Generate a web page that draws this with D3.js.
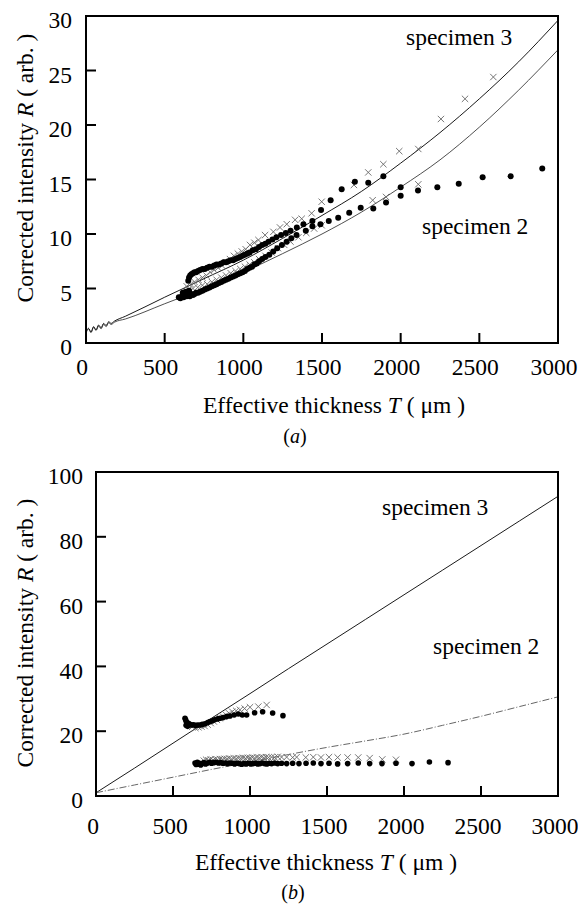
<!DOCTYPE html>
<html>
<head>
<meta charset="utf-8">
<script src="https://cdn.jsdelivr.net/npm/d3@7"></script>
<style>
	body { margin: 0; background: #fff; }
	svg { display: block; }
</style>
</head>
<body>
<script>
// ---- Panel (a) data ----
const aTicksX = [0, 500, 1000, 1500, 2000, 2500, 3000];
const aTicksY = [0, 5, 10, 15, 20, 25, 30];

// fitted curves (T, R)
const aCurve3 = [[0,1.0],[16,1.35],[32,1.0],[48,1.5],[64,1.2],[80,1.65],[96,1.4],[112,1.8],[128,1.6],[144,1.95],[160,1.8],[180,2.0],
	[250,2.45],[500,4.2],[750,5.9],[1000,7.6],[1250,9.6],[1500,11.7],[1750,13.9],[2000,16.5],[2250,19.3],[2500,22.4],[2750,25.8],[3000,29.6]];
const aCurve2 = [[0,0.9],[16,1.3],[32,0.95],[48,1.45],[64,1.15],[80,1.55],[96,1.3],[112,1.7],[128,1.5],[144,1.85],[160,1.7],[180,1.9],
	[250,2.2],[500,3.6],[750,5.0],[1000,6.5],[1250,8.2],[1500,10.0],[1750,12.0],[2000,14.3],[2250,16.8],[2500,19.8],[2750,23.2],[3000,26.9]];

// measured points
const aCross3 = [[640,5.2],[665,5.4],[690,5.6],[715,5.8],[740,6.0],[765,6.2],[790,6.5],[815,6.7],[840,6.9],[865,7.1],[890,7.4],[915,7.7],
	[940,8.0],[965,8.2],[990,8.4],[1015,8.6],[1042,9.0],[1070,9.2],[1096,9.45],[1138,9.9],[1191,10.2],[1233,10.6],[1276,10.9],[1329,11.3],
	[1371,11.4],[1434,11.9],[1498,12.96],[1703,14.5],[1794,15.65],[1890,16.4],[1991,17.6],[2112,17.8],[2256,20.55],[2409,22.4],[2589,24.4]];
const aCross2 = [[650,4.9],[680,5.0],[710,5.1],[740,5.3],[770,5.4],[800,5.6],[830,5.8],[860,6.0],[890,6.2],[920,6.4],[950,6.6],[980,6.8],
	[1010,7.0],[1040,7.2],[1070,7.4],[1100,7.7],[1140,8.0],[1180,8.3],[1220,8.7],[1260,9.0],[1300,9.3],[1350,9.7],[1400,10.1],[1450,10.5],
	[1498,10.8],[1822,13.1],[1907,13.4],[2112,14.56]];
const aDot3 = [[650,5.7],[655,6.0],[662,6.2],[670,6.3],[680,6.4],[690,6.5],[700,6.5],[712,6.6],[725,6.7],[740,6.8],[755,6.8],[770,6.9],
	[785,7.0],[800,7.0],[815,7.1],[830,7.2],[845,7.2],[860,7.3],[875,7.4],[890,7.4],[905,7.5],[920,7.6],[935,7.6],[950,7.7],[965,7.8],
	[980,7.9],[995,8.0],[1010,8.1],[1025,8.2],[1040,8.3],[1060,8.5],[1080,8.6],[1100,8.8],[1120,9.0],[1140,9.1],[1160,9.3],[1185,9.5],
	[1210,9.7],[1240,9.9],[1270,10.1],[1300,10.3],[1340,10.6],[1382,10.9],[1439,11.2],[1494,12.2],[1555,13.1],[1625,14.1],[1709,14.8],
	[1794,14.7],[1890,15.3],[2000,14.3],[2110,14.0],[2233,14.3],[2369,14.6],[2521,15.2],[2699,15.3],[2900,16.0]];
const aDot2 = [[590,4.2],[600,4.1],[610,4.3],[615,4.6],[620,4.2],[630,4.4],[635,4.7],[640,4.3],[650,4.4],[655,4.8],[660,4.3],[670,4.5],
	[680,4.4],[690,4.5],[700,4.6],[712,4.6],[725,4.7],[740,4.8],[755,4.9],[770,5.0],[785,5.1],[800,5.2],[815,5.3],[830,5.4],[845,5.5],
	[860,5.6],[875,5.7],[890,5.8],[905,5.9],[920,6.0],[935,6.1],[950,6.2],[965,6.3],[980,6.4],[995,6.5],[1010,6.6],[1025,6.8],[1040,6.9],
	[1055,7.0],[1070,7.2],[1085,7.3],[1100,7.5],[1120,7.7],[1140,7.9],[1165,8.1],[1190,8.4],[1215,8.7],[1245,9.0],[1275,9.3],[1305,9.6],
	[1338,9.9],[1397,10.3],[1439,10.7],[1490,10.9],[1543,11.2],[1603,11.5],[1673,11.95],[1746,12.4],[1826,12.35],[1907,12.9],[2000,13.5]];

// ---- Panel (b) data ----
const bTicksX = [0, 500, 1000, 1500, 2000, 2500, 3000];
const bTicksY = [0, 20, 40, 60, 80, 100];

const bCurve3 = [[0,1],[250,8.6],[500,16.3],[750,24.0],[1000,31.6],[1250,39.3],[1500,46.9],[1750,54.5],[2000,62.1],[2250,69.7],[2500,77.3],[2750,84.9],[3000,92.5]];
const bCurve2 = [[0,1],[250,3.4],[500,5.8],[750,8.2],[1000,10.5],[1250,12.8],[1500,15.0],[1750,17.0],[2000,19.1],[2250,21.8],[2500,24.6],[2750,27.6],[3000,30.6]];

const bCross3 = [[625,21.4],[645,21.0],[665,21.2],[685,21.4],[705,21.6],[725,22.0],[745,22.5],[765,23.0],[785,23.5],[805,24.0],[825,24.5],
	[845,25.0],[865,25.5],[885,26.0],[910,26.3],[935,26.6],[965,27.0],[1000,27.4],[1054,27.6],[1108,28.1]];
const bDot3 = [[578,24.0],[582,23.5],[585,21.8],[586,23.0],[592,22.6],[595,21.5],[600,22.4],[610,22.1],[620,21.9],[632,22.0],[645,21.8],
	[660,21.9],[675,21.9],[690,22.1],[708,22.3],[725,22.7],[740,23.0],[755,23.2],[770,23.5],[790,23.8],[805,24.0],[825,24.2],[848,24.5],
	[870,24.7],[897,25.0],[924,25.3],[950,25.0],[978,25.0],[1030,25.7],[1082,26.0],[1147,25.6],[1214,24.8]];
const bCross2 = [[700,10.9],[715,11.2],[730,11.0],[745,11.3],[760,11.1],[775,11.4],[790,11.2],[805,11.4],[820,11.3],[835,11.5],[850,11.4],
	[865,11.6],[880,11.4],[895,11.6],[910,11.5],[925,11.7],[940,11.6],[955,11.8],[970,11.6],[985,11.8],[1000,11.7],[1015,11.9],[1030,11.7],
	[1045,11.9],[1060,11.8],[1075,12.0],[1090,11.8],[1105,12.0],[1120,11.9],[1140,12.0],[1160,11.9],[1180,12.1],[1205,12.0],[1238,12.0],
	[1277,11.9],[1303,12.0],[1362,11.9],[1411,12.0],[1461,11.9],[1513,12.0],[1569,11.9],[1634,11.9],[1703,11.9],[1777,11.7],[1859,11.3],[1948,11.2]];
const bDot2 = [[643,10.2],[650,9.7],[658,10.4],[665,9.8],[672,10.1],[680,9.6],[690,10.0],[700,10.3],[712,9.9],[725,10.2],[738,10.4],
	[750,10.1],[765,10.3],[780,10.4],[795,10.2],[810,10.3],[825,10.1],[840,10.2],[855,10.0],[870,10.2],[885,10.1],[900,9.9],[915,10.1],
	[930,10.0],[945,9.8],[960,10.0],[975,9.9],[990,10.1],[1005,9.9],[1020,10.0],[1035,10.1],[1050,9.9],[1065,10.0],[1080,10.2],[1095,10.0],
	[1110,9.9],[1125,10.1],[1140,10.0],[1160,10.2],[1180,10.0],[1205,10.1],[1238,10.0],[1277,10.1],[1318,10.0],[1364,10.1],[1411,10.2],
	[1461,10.0],[1513,10.1],[1569,9.9],[1634,10.0],[1703,10.2],[1777,10.0],[1857,10.0],[1948,10.1],[2052,10.0],[2165,10.5],[2286,10.3]];

const FONT = 'Liberation Serif';
const FS = 23.5;

const svg = d3.select('body')
	.append('svg')
	.attr('width', 578)
	.attr('height', 905)
	.style('font-family', FONT);

function addText(g, x, y, size) {
	return g.append('text')
		.attr('x', x).attr('y', y)
		.style('font-family', FONT)
		.style('font-size', size + 'px');
}

function drawPanel(p) {
	const x = d3.scaleLinear().domain([0, 3000]).range([p.left, p.right]);
	const y = d3.scaleLinear().domain([0, p.yMax]).range([p.bottom, p.top]);
	const g = svg.append('g');

	// inward ticks (skip the ones on the frame)
	g.selectAll('.xt').data(p.ticksX.slice(1, -1)).enter().append('line')
		.attr('x1', d => x(d)).attr('x2', d => x(d))
		.attr('y1', p.bottom).attr('y2', p.bottom - 10)
		.attr('stroke', '#000').attr('stroke-width', 2);
	g.selectAll('.yt').data(p.ticksY.slice(1, -1)).enter().append('line')
		.attr('x1', p.left).attr('x2', p.left + 10)
		.attr('y1', d => y(d)).attr('y2', d => y(d))
		.attr('stroke', '#000').attr('stroke-width', 2);

	// tick labels
	p.ticksX.forEach(d => {
		addText(g, x(d) + p.xLabelShift, p.xLabelY, FS)
			.attr('text-anchor', 'middle')
			.text(d);
	});
	p.ticksY.forEach(d => {
		addText(g, p.yLabelX, y(d) + 4, FS)
			.attr('dy', '0.35em')
			.attr('text-anchor', 'end')
			.text(d);
	});

	// fitted curves
	const line = d3.line().x(d => x(d[0])).y(d => y(d[1])).curve(d3.curveMonotoneX);
	p.curves.forEach(c => {
		g.append('path')
			.attr('d', line(c.data))
			.attr('fill', 'none')
			.attr('stroke', c.color)
			.attr('stroke-width', c.width)
			.attr('stroke-dasharray', c.dash);
	});

	// crosses
	const cross = d3.symbol(d3.symbolTimes, 28);
	p.crosses.forEach(set => {
		g.selectAll(null).data(set).enter().append('path')
			.attr('d', cross)
			.attr('transform', d => `translate(${x(d[0])},${y(d[1])})`)
			.attr('fill', 'none')
			.attr('stroke', '#666')
			.attr('stroke-width', 0.9);
	});

	// dots
	p.dots.forEach(set => {
		g.selectAll(null).data(set).enter().append('circle')
			.attr('cx', d => x(d[0]))
			.attr('cy', d => y(d[1]))
			.attr('r', p.dotR)
			.attr('fill', '#000');
	});

	// frame
	g.append('rect')
		.attr('x', p.left).attr('y', p.top)
		.attr('width', p.right - p.left).attr('height', p.bottom - p.top)
		.attr('fill', 'none').attr('stroke', '#000').attr('stroke-width', 2);

	// axis titles
	const xt = addText(g, p.xTitleX, p.xTitleY, FS).attr('text-anchor', 'middle');
	xt.append('tspan').text('Effective thickness ');
	xt.append('tspan').style('font-style', 'italic').text('T');
	xt.append('tspan').text(' ( \u03bcm )');

	const yt = addText(g, 0, 0, FS)
		.attr('transform', `translate(${p.yTitleX},${p.yTitleY}) rotate(-90)`)
		.attr('text-anchor', 'middle');
	yt.append('tspan').text('Corrected intensity ');
	yt.append('tspan').style('font-style', 'italic').text('R');
	yt.append('tspan').text(' ( arb. )');

	// panel letter
	const pl = addText(g, p.letterX, p.letterY, 20).attr('text-anchor', 'middle');
	pl.append('tspan').text('(');
	pl.append('tspan').style('font-style', 'italic').text(p.letter);
	pl.append('tspan').text(')');

	// specimen labels
	p.notes.forEach(n => {
		addText(g, n.x, n.y, FS).text(n.text);
	});
}

drawPanel({
	left: 86, right: 558, top: 16, bottom: 343, yMax: 30,
	ticksX: aTicksX, ticksY: aTicksY,
	xLabelY: 375, xLabelShift: -4, yLabelX: 72,
	xTitleX: 334, xTitleY: 413, yTitleX: 33, yTitleY: 168,
	letter: 'a', letterX: 295, letterY: 443,
	dotR: 3,
	curves: [
		{ data: aCurve3, color: '#000', width: 0.9, dash: null },
		{ data: aCurve2, color: '#222', width: 0.8, dash: null }
	],
	crosses: [aCross3, aCross2],
	dots: [aDot3, aDot2],
	notes: [
		{ text: 'specimen 3', x: 406, y: 45 },
		{ text: 'specimen 2', x: 422, y: 234 }
	]
});

drawPanel({
	left: 96, right: 558, top: 472, bottom: 796, yMax: 100,
	ticksX: bTicksX, ticksY: bTicksY,
	xLabelY: 834, xLabelShift: -3, yLabelX: 83,
	xTitleX: 326, xTitleY: 870, yTitleX: 33, yTitleY: 633,
	letter: 'b', letterX: 293, letterY: 899,
	dotR: 2.8,
	curves: [
		{ data: bCurve3, color: '#000', width: 0.9, dash: null },
		{ data: bCurve2, color: '#555', width: 0.9, dash: '7,2,1,2' }
	],
	crosses: [bCross3, bCross2],
	dots: [bDot3, bDot2],
	notes: [
		{ text: 'specimen 3', x: 382, y: 515 },
		{ text: 'specimen 2', x: 433, y: 654 }
	]
});
</script>
</body>
</html>
